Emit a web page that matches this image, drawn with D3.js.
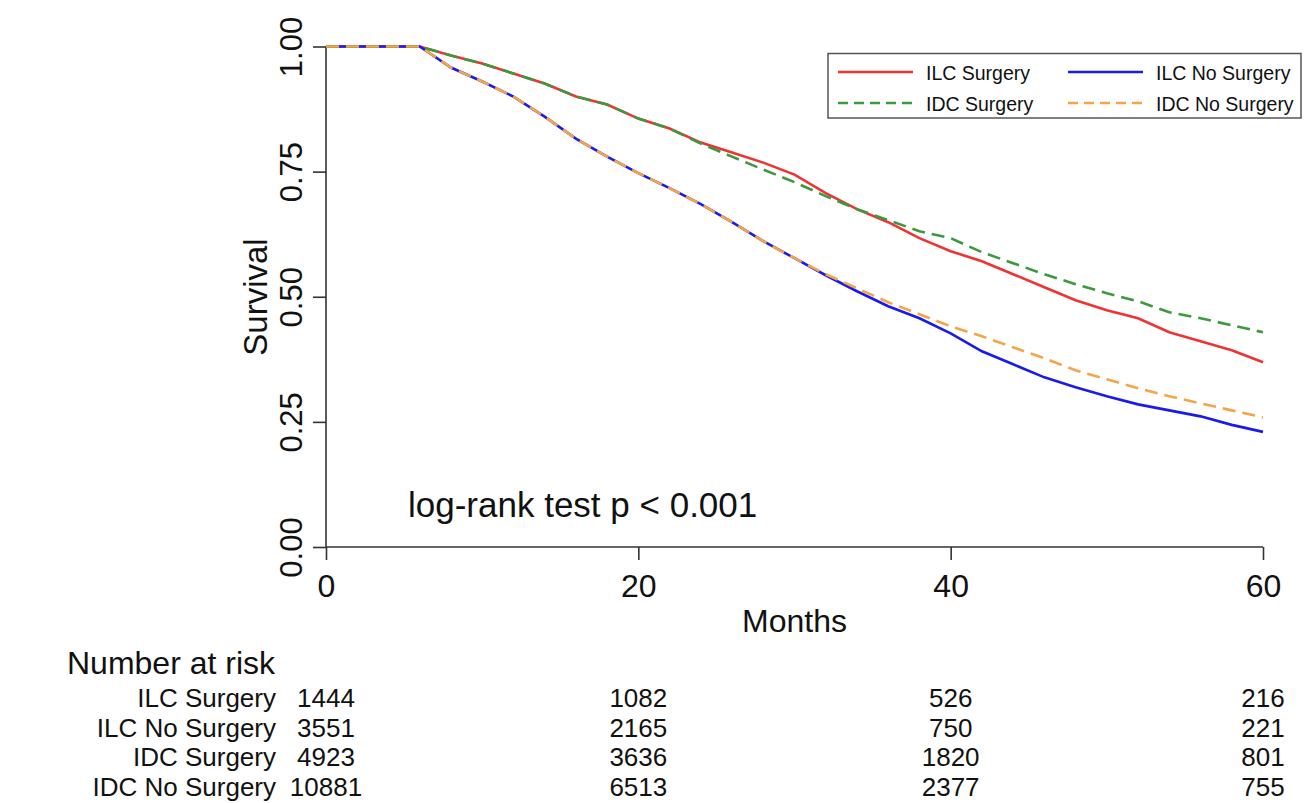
<!DOCTYPE html>
<html>
<head>
<meta charset="utf-8">
<script src="https://cdn.jsdelivr.net/npm/d3@7"></script>
<style>
  body { margin: 0; background: #fff; }
  text { font-family: "Liberation Sans", Arial, sans-serif; fill: #111; }
</style>
</head>
<body>
<div id="chart"></div>
<script>
// survival, every 2 months from month 6
const months = [0, 6, 8, 10, 12, 14, 16, 18, 20, 22, 24, 26, 28, 30, 32, 34, 36, 38, 40,
                42, 44, 46, 48, 50, 52, 54, 56, 58, 60];
const ilcSurgery = [1, 1, 0.982, 0.966, 0.946, 0.926, 0.900, 0.884, 0.856, 0.836, 0.808, 0.788, 0.768, 0.744,
                    0.707, 0.675, 0.649, 0.617, 0.591, 0.571, 0.545, 0.519, 0.493, 0.473, 0.457, 0.429, 0.411, 0.393, 0.369];
const ilcNoSurgery = [1, 1, 0.958, 0.930, 0.900, 0.860, 0.816, 0.780, 0.747, 0.717, 0.685, 0.649, 0.611, 0.577,
                      0.543, 0.511, 0.481, 0.457, 0.427, 0.391, 0.365, 0.339, 0.319, 0.301, 0.285, 0.273, 0.261, 0.244, 0.230];
const idcSurgery = [1, 1, 0.982, 0.966, 0.946, 0.926, 0.900, 0.884, 0.856, 0.836, 0.806, 0.780, 0.754, 0.729,
                    0.701, 0.675, 0.653, 0.631, 0.617, 0.589, 0.567, 0.545, 0.525, 0.507, 0.491, 0.469, 0.457, 0.443, 0.429];
const idcNoSurgery = [1, 1, 0.958, 0.930, 0.900, 0.860, 0.816, 0.780, 0.747, 0.717, 0.685, 0.649, 0.611, 0.577,
                      0.545, 0.517, 0.489, 0.465, 0.441, 0.421, 0.399, 0.377, 0.353, 0.335, 0.317, 0.301, 0.287, 0.273, 0.259];

const groups = ["ILC Surgery", "ILC No Surgery", "IDC Surgery", "IDC No Surgery"];
const xTicks = [0, 20, 40, 60];
const yTicks = [0, 0.25, 0.5, 0.75, 1];
const riskTimes = [0, 20, 40, 60];
const riskILCSurgery = [1444, 1082, 526, 216];
const riskILCNoSurgery = [3551, 2165, 750, 221];
const riskIDCSurgery = [4923, 3636, 1820, 801];
const riskIDCNoSurgery = [10881, 6513, 2377, 755];

let width = 1304, height = 803;

const svg = d3.select("#chart")
  .append("svg")
  .attr("width", width)
  .attr("height", height);

let x = d3.scaleLinear().domain([0, 60]).range([326, 1263]);
let y = d3.scaleLinear().domain([0, 1]).range([547, 46.5]);

const styles = [
  { color: "#ee3333", dash: null },
  { color: "#1a1aee", dash: null },
  { color: "#3d993d", dash: "13,7" },
  { color: "#f5a447", dash: "13,7" }
];
const seriesList = [ilcSurgery, ilcNoSurgery, idcSurgery, idcNoSurgery];

// axes
const yAxis = svg.append("g")
  .attr("transform", "translate(326,0)")
  .call(d3.axisLeft(y).tickValues(yTicks).tickSize(13).tickFormat(d3.format(".2f")));
yAxis.select(".domain").attr("d", `M0,${y(0)}V${y(1)}`);
yAxis.selectAll("line, path").attr("stroke", "#333").attr("stroke-width", 1.6);
yAxis.selectAll(".tick text")
  .attr("x", 0).attr("dy", null)
  .attr("transform", "translate(-24,0) rotate(-90)")
  .attr("text-anchor", "middle")
  .style("font-size", "31px")
  .style("font-family", "Liberation Sans, Arial, sans-serif")
  .attr("fill", "#111");

const xAxis = svg.append("g")
  .attr("transform", `translate(0,${y(0)})`)
  .call(d3.axisBottom(x).tickValues(xTicks).tickSize(13));
xAxis.select(".domain").attr("d", `M${x(0)},0H${x(60)}`);
xAxis.selectAll("line, path").attr("stroke", "#333").attr("stroke-width", 1.6);
xAxis.selectAll(".tick text")
  .attr("y", 50).attr("dy", null)
  .style("font-size", "32px")
  .style("font-family", "Liberation Sans, Arial, sans-serif")
  .attr("fill", "#111");

svg.append("text").attr("x", x(30)).attr("y", 632).attr("text-anchor", "middle")
  .style("font-size", "32px").text("Months");
svg.append("text").attr("transform", "translate(267,297) rotate(-90)").attr("text-anchor", "middle")
  .style("font-size", "33px").text("Survival");

// curves
const line = d3.line().x((d, i) => x(months[i])).y(d => y(d));
seriesList.forEach((s, i) => {
  svg.append("path")
    .datum(s)
    .attr("d", line)
    .attr("fill", "none")
    .attr("stroke", styles[i].color)
    .attr("stroke-width", 2.6)
    .attr("stroke-dasharray", styles[i].dash);
});

svg.append("text").attr("x", 408).attr("y", 517)
  .style("font-size", "35px").text("log-rank test p < 0.001");

// legend
svg.append("rect").attr("x", 828).attr("y", 53.5).attr("width", 473).attr("height", 64.5)
  .attr("fill", "#fff").attr("stroke", "#555").attr("stroke-width", 1.5);
const legPos = [[838, 72], [1068, 72], [838, 103], [1068, 103]];
groups.forEach((g, i) => {
  const [lx, ly] = legPos[i];
  svg.append("line").attr("x1", lx).attr("x2", lx + 75).attr("y1", ly).attr("y2", ly)
    .attr("stroke", styles[i].color).attr("stroke-width", 2.4)
    .attr("stroke-dasharray", styles[i].dash ? "10,6" : null);
  svg.append("text").attr("x", lx + 88).attr("y", ly + 7.5)
    .style("font-size", "19.5px").text(g);
});

// number at risk table
svg.append("text").attr("x", 67).attr("y", 674).style("font-size", "32px").text("Number at risk");
const riskRows = [riskILCSurgery, riskILCNoSurgery, riskIDCSurgery, riskIDCNoSurgery];
riskRows.forEach((row, i) => {
  const by = 707 + i * 29.5;
  svg.append("text").attr("x", 276).attr("y", by).attr("text-anchor", "end")
    .style("font-size", "26px").text(groups[i]);
  svg.append("g").selectAll("text")
    .data(row)
    .join("text")
    .attr("x", (d, j) => x(riskTimes[j]))
    .attr("y", by)
    .attr("text-anchor", "middle")
    .style("font-size", "26px")
    .text(d => d);
});
</script>
</body>
</html>
